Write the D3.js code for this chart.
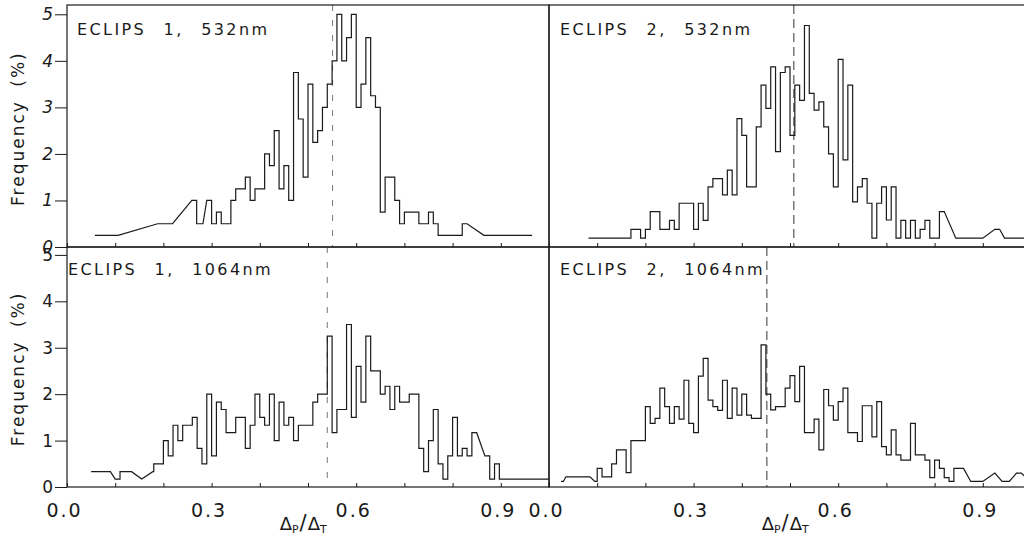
<!DOCTYPE html>
<html>
<head>
<meta charset="utf-8">
<script src="https://cdn.jsdelivr.net/npm/d3@7"></script>
<style>
  body { margin: 0; background: #fff; }
  svg { display: block; font-family: "DejaVu Sans", sans-serif; }
</style>
</head>
<body>
<svg width="1024" height="544"></svg>
<script>
// ---- data ----
const titles = ["ECLIPS 1, 532nm", "ECLIPS 2, 532nm", "ECLIPS 1, 1064nm", "ECLIPS 2, 1064nm"];
const xTicks = [0, 0.1, 0.2, 0.3, 0.4, 0.5, 0.6, 0.7, 0.8, 0.9];
const xLabelTicks = [0, 0.3, 0.6, 0.9];
const yTicks = [0, 1, 2, 3, 4, 5];
const means = [0.551, 0.508, 0.54, 0.452];
const binWidth = 0.01;

// runs are [x0, x1, frequency]; bins are 0.01 wide starting at *Start
const e1g532Head = [[0.058, 0.106, 0.25], [0.188, 0.219, 0.5], [0.259, 0.269, 1.0], [0.269, 0.282, 0.5], [0.29, 0.30, 1.0]];
const e1g532Start = 0.30;
const e1g532 = [0.5, 0.75, 0.5, 0.5, 1.0, 1.25, 1.25, 1.5, 1.0, 1.25,
  1.25, 2.0, 1.75, 2.5, 1.25, 1.75, 1.0, 3.75, 2.75, 1.5,
  3.5, 2.25, 2.5, 3.0, 3.5, 4.0, 5.0, 4.0, 4.5, 5.0,
  3.0, 3.5, 4.5, 3.25, 3.0, 0.75, 1.5, 1.5, 1.0, 0.5,
  0.75, 0.75, 0.75, 0.5, 0.5, 0.75, 0.5, 0.25, 0.25, 0.25,
  0.25, 0.25, 0.5];
const e1g532Tail = [[0.865, 0.965, 0.25]];

const e2g532Head = [[0.082, 0.17, 0.19]];
const e2g532Start = 0.17;
const e2g532 = [0.38, 0.38, 0.19, 0.38, 0.76, 0.76, 0.38, 0.38, 0.57, 0.38,
  0.94, 0.94, 0.94, 0.38, 0.94, 0.57, 1.29, 1.47, 1.47, 1.12,
  1.65, 1.12, 2.76, 2.4, 1.29, 1.29, 2.58, 3.48, 2.98, 3.87,
  2.05, 3.75, 3.87, 2.4, 3.48, 3.15, 4.76, 3.3, 2.94, 3.12,
  2.58, 2.0, 1.29, 4.03, 1.87, 3.48, 0.97, 1.29, 1.47, 0.94,
  0.19, 0.94, 1.29, 0.58, 1.29, 0.19, 0.57, 0.19, 0.57, 0.19,
  0.38, 0.57, 0.19, 0.19, 0.76];
const e2g532Tail = [[0.844, 0.90, 0.19], [0.925, 0.935, 0.38], [0.945, 1.0, 0.19]];

const e1g1064Head = [[0.05, 0.09, 0.33], [0.10, 0.11, 0.17], [0.11, 0.134, 0.33], [0.155, 0.155, 0.17], [0.178, 0.18, 0.33], [0.18, 0.20, 0.5]];
const e1g1064Start = 0.20;
const e1g1064 = [1.0, 0.67, 1.33, 1.0, 1.33, 1.33, 1.5, 0.83, 0.5, 2.0,
  0.67, 1.83, 1.67, 1.17, 1.17, 1.5, 1.5, 0.83, 1.33, 2.0,
  1.5, 1.33, 2.0, 1.0, 1.83, 1.33, 1.5, 1.0, 1.33, 1.33,
  1.33, 1.83, 2.0, 2.0, 3.25, 1.17, 1.67, 1.67, 3.5, 1.5,
  2.6, 1.83, 3.25, 2.5, 2.5, 2.0, 2.17, 1.67, 2.17, 1.83,
  1.83, 2.0, 2.0, 0.83, 0.33, 1.0, 1.67, 0.5, 0.17, 0.67,
  1.5, 0.67, 0.83, 0.67, 1.17];
const e1g1064Tail = [[0.867, 0.877, 0.67], [0.877, 0.887, 0.17], [0.887, 0.897, 0.5], [0.897, 1.0, 0.17]];

const e2g1064Head = [[0.025, 0.03, 0.12], [0.035, 0.085, 0.22], [0.095, 0.10, 0.12]];
const e2g1064Start = 0.10;
const e2g1064 = [0.4, 0.22, 0.22, 0.5, 0.8, 0.8, 0.31, 1.0, 1.0, 1.0,
  1.73, 1.37, 1.48, 2.13, 1.73, 1.37, 1.73, 1.46, 2.3, 1.37,
  1.17, 2.39, 2.77, 1.87, 1.73, 1.65, 2.3, 1.48, 2.13, 1.55,
  2.0, 1.55, 1.48, 1.48, 3.06, 2.0, 1.66, 1.73, 1.73, 2.13,
  2.4, 1.84, 2.6, 1.17, 1.17, 1.46, 0.8, 2.1, 1.75, 1.44,
  1.84, 2.13, 1.17, 1.17, 0.98, 1.75, 1.75, 1.08, 1.84, 0.87,
  0.69, 1.23, 0.69, 0.58, 0.58, 1.37, 0.69, 0.69, 0.58, 0.2,
  0.58, 0.4, 0.2, 0.12, 0.4, 0.4];
const e2g1064Tail = [[0.875, 0.90, 0.12], [0.925, 0.925, 0.3], [0.94, 0.955, 0.12], [0.97, 0.98, 0.3], [0.99, 1.0, 0.2]];

// ---- layout ----
const svg = d3.select("svg");
const ink = "#1a1a1a";

function runsOf(head, start, bins, tail) {
  return head.concat(bins.map((v, i) => [start + i * binWidth, start + (i + 1) * binWidth, v]), tail);
}

const panels = [
  { runs: runsOf(e1g532Head, e1g532Start, e1g532, e1g532Tail), xr: [67, 549], yr: [247, 5], ymax: 5.2, left: true, bottom: false, tx: 77, ty: 35 },
  { runs: runsOf(e2g532Head, e2g532Start, e2g532, e2g532Tail), xr: [549, 1031], yr: [247, 5], ymax: 5.2, left: false, bottom: false, tx: 560, ty: 35 },
  { runs: runsOf(e1g1064Head, e1g1064Start, e1g1064, e1g1064Tail), xr: [67, 549], yr: [487, 247], ymax: 5.17, left: true, bottom: true, tx: 68, ty: 275 },
  { runs: runsOf(e2g1064Head, e2g1064Start, e2g1064, e2g1064Tail), xr: [549, 1031], yr: [487, 247], ymax: 5.17, left: false, bottom: true, tx: 560, ty: 275 }
];

panels.forEach((p, i) => {
  const x = d3.scaleLinear().domain([0, 1]).range(p.xr);
  const y = d3.scaleLinear().domain([0, p.ymax]).range(p.yr);
  const g = svg.append("g");

  // mean marker
  g.append("line")
    .attr("x1", x(means[i])).attr("x2", x(means[i]))
    .attr("y1", y(p.ymax)).attr("y2", y(0))
    .attr("stroke", i % 2 === 0 ? "#777" : "#333")
    .attr("stroke-width", 1)
    .attr("stroke-dasharray", i % 2 === 0 ? "6,9" : "9,5");

  // histogram outline
  const pts = p.runs.flatMap(r => [[r[0], r[2]], [r[1], r[2]]]);
  const line = d3.line().x(d => x(d[0])).y(d => y(d[1]));
  g.append("path").datum(pts)
    .attr("d", line)
    .attr("fill", "none")
    .attr("stroke", ink)
    .attr("stroke-width", 1.2);

  // frame
  g.append("rect")
    .attr("x", x(0)).attr("y", y(p.ymax))
    .attr("width", x(1) - x(0)).attr("height", y(0) - y(p.ymax))
    .attr("fill", "none").attr("stroke", ink).attr("stroke-width", 1.2);

  // x axis
  const xa = d3.axisBottom(x).tickValues(xTicks)
    .tickSizeInner(-4).tickSizeOuter(0).tickPadding(17)
    .tickFormat(d => p.bottom && xLabelTicks.includes(d) ? d3.format(".1f")(d) : "");
  const xg = g.append("g").attr("transform", `translate(0,${y(0)})`).call(xa);
  xg.select(".domain").remove();
  xg.selectAll("line").attr("stroke", ink);
  xg.selectAll("text")
    .attr("font-family", "DejaVu Sans").attr("font-size", 19)
    .attr("letter-spacing", 2).attr("dx", -3).attr("fill", ink);

  // y axis on left column
  if (p.left) {
    const ya = d3.axisLeft(y).tickValues(yTicks)
      .tickSizeInner(12).tickSizeOuter(0).tickPadding(2)
      .tickFormat(d3.format("d"));
    const yg = g.append("g").attr("transform", `translate(${x(0)},0)`).call(ya);
    yg.select(".domain").remove();
    yg.selectAll("line").attr("stroke", ink);
    yg.selectAll("text")
      .attr("font-family", "DejaVu Sans").attr("font-size", 17)
      .attr("font-style", p.bottom ? "normal" : "italic").attr("fill", ink);

    svg.append("text")
      .attr("transform", `translate(24,${(y(0) + y(5)) / 2 - 2}) rotate(-90)`)
      .attr("text-anchor", "middle")
      .attr("font-size", 17).attr("letter-spacing", 2).attr("word-spacing", 6)
      .attr("fill", ink)
      .text("Frequency (%)");
  }

  // panel title
  g.append("text")
    .attr("x", p.tx).attr("y", p.ty)
    .attr("font-size", 16).attr("letter-spacing", 2.4).attr("word-spacing", 10)
    .attr("fill", ink)
    .text(titles[i]);

  // x label
  if (p.bottom) {
    const t = svg.append("text")
      .attr("x", x(0.49)).attr("y", 530)
      .attr("text-anchor", "middle")
      .attr("font-size", 18).attr("fill", ink);
    t.append("tspan").text("Δ");
    t.append("tspan").attr("font-size", 11).attr("dy", 3).text("P");
    t.append("tspan").attr("dy", -3).attr("font-size", 21).attr("dx", 1).text("/");
    t.append("tspan").attr("dx", 1).text("Δ");
    t.append("tspan").attr("font-size", 11).attr("dy", 3).text("T");
  }
});
</script>
</body>
</html>
